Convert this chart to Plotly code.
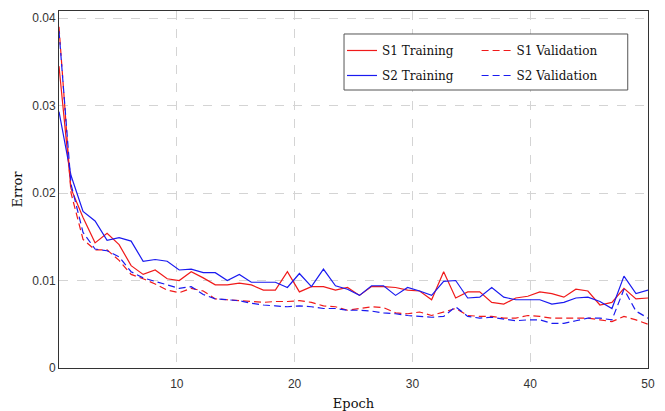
import numpy as np
import plotly.graph_objects as go

# ---- data ----
n_points = 50
epochs = np.linspace(0, 50, n_points)

s1_training = [0.0345, 0.0205, 0.0172, 0.0143, 0.0154, 0.0141, 0.0117, 0.0107, 0.0112, 0.0102,
               0.0100, 0.0110, 0.0103, 0.0095, 0.0095, 0.0097, 0.0095, 0.0089, 0.0089, 0.0110,
               0.0087, 0.0093, 0.0093, 0.0089, 0.0092, 0.0083, 0.0093, 0.0093, 0.0092, 0.0089,
               0.0088, 0.0078, 0.0110, 0.0080, 0.0087, 0.0087, 0.0075, 0.0073, 0.0080, 0.0082,
               0.0087, 0.0085, 0.0081, 0.0090, 0.0088, 0.0072, 0.0075, 0.0091, 0.0079, 0.0080]

s2_training = [0.0293, 0.0220, 0.0179, 0.0168, 0.0146, 0.0149, 0.0145, 0.0122, 0.0124, 0.0122,
               0.0112, 0.0113, 0.0109, 0.0109, 0.0100, 0.0107, 0.0098, 0.0098, 0.0098, 0.0092,
               0.0108, 0.0093, 0.0113, 0.0094, 0.0090, 0.0083, 0.0094, 0.0094, 0.0083, 0.0092,
               0.0088, 0.0083, 0.0099, 0.0100, 0.0080, 0.0081, 0.0092, 0.0081, 0.0078, 0.0078,
               0.0078, 0.0073, 0.0075, 0.0080, 0.0081, 0.0076, 0.0068, 0.0105, 0.0085, 0.0089]

s1_validation = [0.0390, 0.0200, 0.0147, 0.0135, 0.0135, 0.0123, 0.0107, 0.0102, 0.0096, 0.0089,
                 0.0086, 0.0091, 0.0088, 0.0079, 0.0078, 0.0077, 0.0076, 0.0075, 0.0076, 0.0076,
                 0.0077, 0.0075, 0.0071, 0.0070, 0.0066, 0.0068, 0.0070, 0.0069, 0.0063, 0.0062,
                 0.0064, 0.0060, 0.0064, 0.0068, 0.0060, 0.0059, 0.0059, 0.0057, 0.0057, 0.0060,
                 0.0059, 0.0057, 0.0057, 0.0057, 0.0057, 0.0055, 0.0053, 0.0059, 0.0055, 0.0050]

s2_validation = [0.0385, 0.0210, 0.0155, 0.0136, 0.0134, 0.0127, 0.0110, 0.0103, 0.0099, 0.0095,
                 0.0091, 0.0093, 0.0084, 0.0079, 0.0078, 0.0077, 0.0074, 0.0072, 0.0071, 0.0070,
                 0.0071, 0.0070, 0.0068, 0.0068, 0.0066, 0.0066, 0.0065, 0.0063, 0.0062, 0.0060,
                 0.0059, 0.0058, 0.0059, 0.0070, 0.0059, 0.0057, 0.0058, 0.0056, 0.0054, 0.0055,
                 0.0055, 0.0051, 0.0051, 0.0054, 0.0057, 0.0057, 0.0055, 0.0090, 0.0065, 0.0057]

x_tick_vals = [10, 20, 30, 40, 50]
y_tick_vals = [0, 0.01, 0.02, 0.03, 0.04]
y_tick_text = ["0", "0.01", "0.02", "0.03", "0.04"]

RED = "#f01a1a"
BLUE = "#1a1af0"
SERIF = "DejaVu Serif"
SANS = "Liberation Sans, Arial, sans-serif"

fig = go.Figure()
traces = [
    ("S1 Training", s1_training, RED, "solid", "legend", "g1"),
    ("S2 Training", s2_training, BLUE, "solid", "legend", "g2"),
    ("S1 Validation", s1_validation, RED, "7px,4px", "legend2", "g3"),
    ("S2 Validation", s2_validation, BLUE, "7px,4px", "legend2", "g4"),
]
for name, vals, col, dash, leg, grp in traces:
    fig.add_trace(go.Scatter(
        x=epochs, y=vals, mode="lines", name=name,
        line=dict(color=col, width=1.2, dash=dash),
        legend=leg, legendgroup=grp,
    ))

axis_common = dict(
    showline=True, linecolor="#333333", linewidth=1, mirror=True,
    showgrid=True, gridcolor="#d4d4d4", griddash="dash", gridwidth=1,
    zeroline=False, ticks="", automargin=False,
    tickfont=dict(family=SANS, size=12, color="#333333"),
)

fig.update_layout(
    width=665, height=411,
    margin=dict(l=59, r=17, t=11, b=43),
    paper_bgcolor="white", plot_bgcolor="white",
    xaxis=dict(range=[0, 50], tickvals=x_tick_vals, ticklabelstandoff=5,
               title=dict(text="Epoch", font=dict(family=SERIF, size=13, color="#111111"), standoff=8),
               **axis_common),
    yaxis=dict(range=[0, 0.0408], tickvals=y_tick_vals, ticktext=y_tick_text,
               title=dict(text="Error", font=dict(family=SERIF, size=13, color="#111111"), standoff=6),
               **axis_common),
    legend=dict(x=0.4805, y=0.93, xanchor="left", yanchor="top",
                bgcolor="rgba(0,0,0,0)", borderwidth=0, tracegroupgap=6,
                font=dict(family=SERIF, size=12, color="#111111")),
    legend2=dict(x=0.709, y=0.93, xanchor="left", yanchor="top",
                 bgcolor="rgba(0,0,0,0)", borderwidth=0, tracegroupgap=6,
                 font=dict(family=SERIF, size=12, color="#111111")),
    shapes=[dict(type="rect", xref="paper", yref="paper",
                 x0=0.4839, x1=0.9656, y0=0.7787, y1=0.9356,
                 fillcolor="white", line=dict(color="#555555", width=1), layer="above")],
)

fig.write_html("out.html", config={"displayModeBar": False},
               post_script="document.body.style.margin='0';")
